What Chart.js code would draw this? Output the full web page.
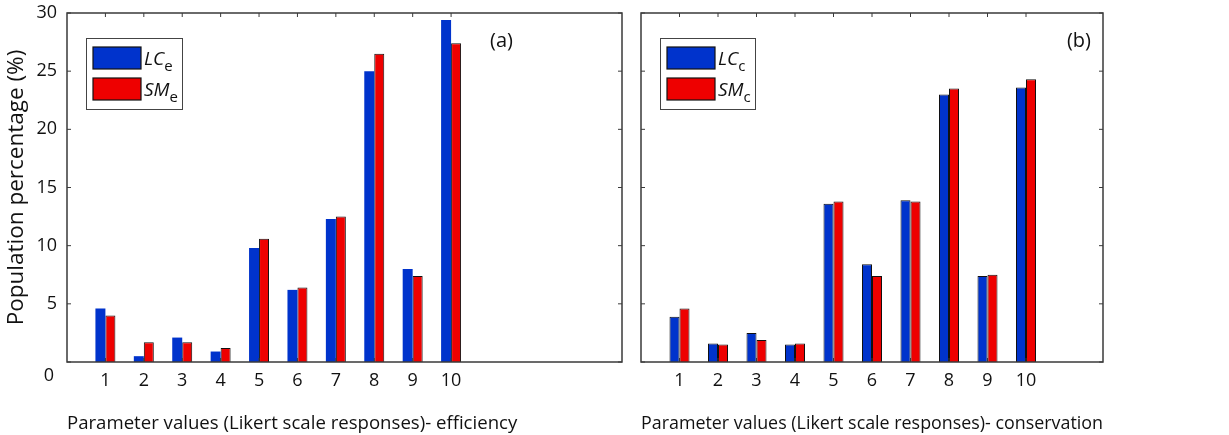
<!DOCTYPE html>
<html>
<head>
<meta charset="utf-8">
<script src="https://cdn.jsdelivr.net/npm/chart.js@4"></script>
<style>
  html, body { margin: 0; padding: 0; background: #fff; }
  .wrap { position: absolute; top: 0; height: 435px; }
  #left { left: 0; width: 630px; }
  #right { left: 630px; width: 599px; }
</style>
</head>
<body>
<div class="wrap" id="left"><canvas id="effChart"></canvas></div>
<div class="wrap" id="right"><canvas id="consChart"></canvas></div>
<script>
// Likert responses on the x axis
let likertValues = [1, 2, 3, 4, 5, 6, 7, 8, 9, 10]
let yTicks = [0, 5, 10, 15, 20, 25, 30]

// (a) efficiency, population % per response
let lcEfficiency = [4.6, 0.5, 2.1, 0.9, 9.8, 6.2, 12.3, 25.0, 8.0, 29.4]
let smEfficiency = [4.0, 1.7, 1.7, 1.2, 10.6, 6.4, 12.5, 26.5, 7.4, 27.4]

// (b) conservation
let lcConservation = [3.9, 1.6, 2.5, 1.5, 13.6, 8.4, 13.9, 23.0, 7.4, 23.6]
let smConservation = [4.6, 1.5, 1.9, 1.6, 13.8, 7.4, 13.8, 23.5, 7.5, 24.3]

const blue = '#0033cc'
const red = '#ee0000'
const frameColor = '#3a3a3a'

function toPoints(values){
    return likertValues.map((x, i) => ({x: x, y: values[i]}))
}

// box around the plot with inward ticks, panel tag, legend with subscripts and the shifted "0"
const matlabFrame = {
    id: 'matlabFrame',
    afterDatasetsDraw(chart, args, opts) {
        const ctx = chart.ctx
        const a = chart.chartArea
        const xs = chart.scales.x
        const ys = chart.scales.y
        ctx.save()
        ctx.strokeStyle = frameColor
        ctx.lineWidth = 1.5
        ctx.strokeRect(a.left, a.top, a.right - a.left, a.bottom - a.top)
        ctx.lineWidth = 1
        ctx.beginPath()
        for (let v of likertValues) {
            const px = xs.getPixelForValue(v)
            ctx.moveTo(px, a.top); ctx.lineTo(px, a.top + 4)
            ctx.moveTo(px, a.bottom); ctx.lineTo(px, a.bottom - 4)
        }
        for (let v of yTicks) {
            const py = ys.getPixelForValue(v)
            ctx.moveTo(a.left, py); ctx.lineTo(a.left + 4, py)
            ctx.moveTo(a.right, py); ctx.lineTo(a.right - 4, py)
        }
        ctx.stroke()

        // panel tag
        ctx.fillStyle = '#111'
        ctx.font = '20px "Open Sans"'
        ctx.textAlign = 'right'
        ctx.textBaseline = 'middle'
        ctx.fillText(opts.tag, a.right - opts.tagRight, a.top + 28)

        if (opts.zeroLabel) {
            ctx.font = '18px "Open Sans"'
            ctx.textAlign = 'right'
            ctx.fillText('0', a.left - 13, ys.getPixelForValue(0) + 14)
        }

        // legend
        const bx = a.left + 19, by = a.top + 25, bw = opts.legendWidth, bh = 71
        ctx.fillStyle = '#fff'
        ctx.fillRect(bx, by, bw, bh)
        ctx.strokeStyle = '#444'
        ctx.lineWidth = 1
        ctx.strokeRect(bx + 0.5, by + 0.5, bw, bh)
        chart.data.datasets.forEach((ds, i) => {
            const sy = by + 9 + i * 31
            ctx.fillStyle = ds.backgroundColor
            ctx.fillRect(bx + 7, sy, 48, 22)
            ctx.strokeStyle = '#111'
            ctx.lineWidth = 1.2
            ctx.strokeRect(bx + 7, sy, 48, 22)
            ctx.fillStyle = '#111'
            ctx.textAlign = 'left'
            ctx.textBaseline = 'alphabetic'
            ctx.font = 'italic 19px "Open Sans"'
            const main = ds.label.slice(0, -1)
            const sub = ds.label.slice(-1)
            ctx.fillText(main, bx + 58, sy + 18)
            const w = ctx.measureText(main).width
            ctx.font = '15px "Open Sans"'
            ctx.fillText(sub, bx + 58 + w, sy + 24)
        })
        ctx.restore()
    }
}

function makeChart(canvasId, lcValues, smValues, sub, opts){
    const data = {
        datasets: [{
            label: 'LC' + sub,
            data: toPoints(lcValues),
            backgroundColor: blue,
            borderColor: opts.blueBorder ? '#111' : blue,
            borderWidth: opts.blueBorder ? 1 : 0,
        }, {
            label: 'SM' + sub,
            data: toPoints(smValues),
            backgroundColor: red,
            borderColor: '#111',
            borderWidth: 1,
        }]
    }
    const config = {
        type: 'bar',
        data: data,
        options: {
            responsive: true,
            maintainAspectRatio: false,
            animation: false,
            categoryPercentage: 0.52,
            barPercentage: 1.0,
            layout: {padding: {top: 13, left: opts.padLeft, right: opts.padRight, bottom: 0}},
            plugins: {
                legend: {display: false},
                tooltip: {enabled: false},
                matlabFrame: {tag: opts.tag, tagRight: opts.tagRight, zeroLabel: opts.showY, legendWidth: opts.legendWidth}
            },
            scales: {
                x: {
                    type: 'linear',
                    min: 0,
                    max: opts.xMax,
                    offset: false,
                    afterBuildTicks: (scale) => { scale.ticks = likertValues.map(v => ({value: v})) },
                    afterFit: (scale) => {
                        scale.height = 73
                        scale.paddingLeft = 0
                        scale.paddingRight = 0
                    },
                    grid: {display: false, drawTicks: false, offset: false},
                    border: {display: false},
                    ticks: {
                        padding: 8,
                        color: '#111',
                        font: {family: 'Open Sans', size: 18},
                        maxRotation: 0,
                        autoSkip: false
                    },
                    title: {
                        display: true,
                        text: opts.xTitle,
                        align: 'start',
                        color: '#111',
                        padding: {top: 0, bottom: 0},
                        font: {family: 'Open Sans', size: 18.6}
                    }
                },
                y: {
                    display: opts.showY,
                    min: 0,
                    max: 30,
                    afterBuildTicks: (scale) => { scale.ticks = yTicks.map(v => ({value: v})) },
                    afterFit: (scale) => {
                        if (opts.showY) scale.width = 67
                        scale.paddingTop = 0
                        scale.paddingBottom = 0
                    },
                    grid: {display: false, drawTicks: false},
                    border: {display: false},
                    ticks: {
                        padding: 10,
                        color: '#111',
                        font: {family: 'Open Sans', size: 18},
                        callback: (v) => v === 0 ? '' : v
                    },
                    title: {
                        display: true,
                        text: 'Population percentage (%)',
                        color: '#111',
                        padding: {top: 3, bottom: 0},
                        font: {family: 'Open Sans', size: 22.5}
                    }
                }
            }
        },
        plugins: [matlabFrame]
    }
    return new Chart(document.getElementById(canvasId), config)
}

const efficiencyChart = makeChart('effChart', lcEfficiency, smEfficiency, 'e', {
    xMax: 14.45, showY: true, padLeft: 0, padRight: 8, blueBorder: false,
    tag: '(a)', tagRight: 109, legendWidth: 96,
    xTitle: 'Parameter values (Likert scale responses)- efficiency'
})
const conservationChart = makeChart('consChart', lcConservation, smConservation, 'c', {
    xMax: 12, showY: false, padLeft: 11, padRight: 126, blueBorder: true,
    tag: '(b)', tagRight: 12, legendWidth: 95,
    xTitle: 'Parameter values (Likert scale responses)- conservation'
})
</script>
</body>
</html>
